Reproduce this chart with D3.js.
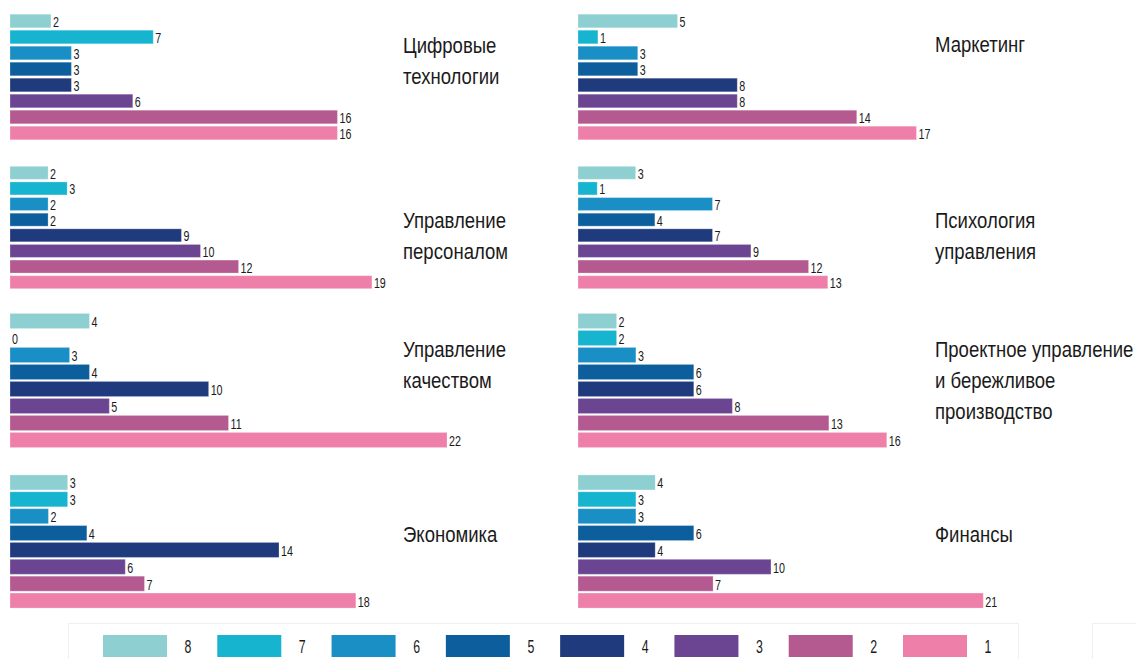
<!DOCTYPE html>
<html lang="ru">
<head>
<meta charset="utf-8">
<title>Распределение оценок по направлениям</title>
<script src="https://cdn.jsdelivr.net/npm/d3@7/dist/d3.min.js"></script>
<style>
  html, body { margin: 0; padding: 0; background: #ffffff; }
  svg { display: block; }
  text { font-family: "Liberation Sans", Arial, "Noto Sans", sans-serif; fill: #1a1a1a; }
</style>
</head>
<body>
<svg id="chart" width="1136" height="659"></svg>
<script>
// Grades, from 8 (top bar) down to 1 (bottom bar)
const grades = ["8", "7", "6", "5", "4", "3", "2", "1"];
const gradeColors = ["#8ecfd1", "#17b4cf", "#1a8fc6", "#0c5f9c", "#1f3b7d", "#6c4592", "#b45a91", "#ee7fa9"];

// Subject areas, in reading order (left column, right column, row by row)
const areaTitles = [
  ["Цифровые", "технологии"],
  ["Маркетинг"],
  ["Управление", "персоналом"],
  ["Психология", "управления"],
  ["Управление", "качеством"],
  ["Проектное управление", "и бережливое", "производство"],
  ["Экономика"],
  ["Финансы"]
];

// Counts per grade (8 … 1) for each area
const digitalTech   = [2, 7, 3, 3, 3, 6, 16, 16];
const marketing     = [5, 1, 3, 3, 8, 8, 14, 17];
const personnel     = [2, 3, 2, 2, 9, 10, 12, 19];
const psychology    = [3, 1, 7, 4, 7, 9, 12, 13];
const quality       = [4, 0, 3, 4, 10, 5, 11, 22];
const projectLean   = [2, 2, 3, 6, 6, 8, 13, 16];
const economics     = [3, 3, 2, 4, 14, 6, 7, 18];
const finance       = [4, 3, 3, 6, 4, 10, 7, 21];

// Value-axis maximum of each small chart
const axisMax = [21.5, 22.1, 23.1, 22.9, 22.15, 22.8, 22.9, 22.8];

const areaValues = [digitalTech, marketing, personnel, psychology, quality, projectLean, economics, finance];

const svg = d3.select("#chart");

// Condensed lettering: the installed faces are regular width, so squeeze horizontally
const titleSqueeze = 0.843;
const valueSqueeze = 0.74;

// Layout of the 2 x 4 grid of small bar charts
const colX = [10, 578];           // left edge of bars in each column
const barSpan = 440;              // pixel length of the value axis
const titleX = [403, 935];
const rowBands = [[13, 141], [165, 290], [312.5, 448.5], [474, 609]];
const rowPadding = [0.15, 0.17, 0.11, 0.11];
const titleFirstBaseline = [[53, 52], [228, 228], [357, 357], [542, 542]];
const titleLineHeight = 31;

areaValues.forEach((values, i) => {
  const col = i % 2;
  const row = Math.floor(i / 2);

  const x = d3.scaleLinear()
    .domain([0, axisMax[i]])
    .range([colX[col], colX[col] + barSpan]);

  const y = d3.scaleBand()
    .domain(grades)
    .range(rowBands[row])
    .paddingInner(rowPadding[row])
    .paddingOuter(rowPadding[row] / 2);

  const g = svg.append("g").attr("class", "panel");

  const rows = grades.map((grade, k) => ({ grade, value: values[k], color: gradeColors[k] }));

  g.selectAll("rect.bar")
    .data(rows)
    .join("rect")
    .attr("class", "bar")
    .attr("x", x(0))
    .attr("y", d => y(d.grade))
    .attr("width", d => x(d.value) - x(0))
    .attr("height", y.bandwidth())
    .attr("fill", d => d.color)
    .attr("stroke", "#ffffff")
    .attr("stroke-opacity", 0.25)
    .attr("stroke-width", 1);

  g.selectAll("text.value")
    .data(rows)
    .join("text")
    .attr("class", "value")
    .attr("transform", d => `translate(${x(d.value) + 2},${y(d.grade) + y.bandwidth() / 2 + 6}) scale(${valueSqueeze},1)`)
    .attr("font-size", 14.5)
    .text(d => d.value);

  // Title block beside the bars
  g.append("text")
    .attr("class", "title")
    .attr("transform", `translate(${titleX[col]},${titleFirstBaseline[row][col]}) scale(${titleSqueeze},1)`)
    .attr("font-size", 22)
    .selectAll("tspan")
    .data(areaTitles[i])
    .join("tspan")
    .attr("x", 0)
    .attr("dy", (d, k) => k === 0 ? 0 : titleLineHeight)
    .text(d => d);
});

// Legend
const legend = svg.append("g").attr("class", "legend");
legend.append("rect")
  .attr("x", 68.5).attr("y", 623.5)
  .attr("width", 950).attr("height", 40)
  .attr("fill", "none").attr("stroke", "#f0f0f0");
legend.append("rect")
  .attr("x", 1092.5).attr("y", 623.5)
  .attr("width", 60).attr("height", 40)
  .attr("fill", "none").attr("stroke", "#f0f0f0");

const lx = d3.scalePoint().domain(grades).range([103, 903]);
const items = legend.selectAll("g.item")
  .data(grades.map((grade, k) => ({ grade, color: gradeColors[k] })))
  .join("g")
  .attr("class", "item")
  .attr("transform", d => `translate(${lx(d.grade)},0)`);

items.append("rect")
  .attr("x", 0).attr("y", 635)
  .attr("width", 64).attr("height", 22)
  .attr("fill", d => d.color);

items.append("text")
  .attr("transform", `translate(85,653) scale(0.65,1)`)
  .attr("text-anchor", "middle")
  .attr("font-size", 19)
  .text(d => d.grade);
</script>
</body>
</html>
